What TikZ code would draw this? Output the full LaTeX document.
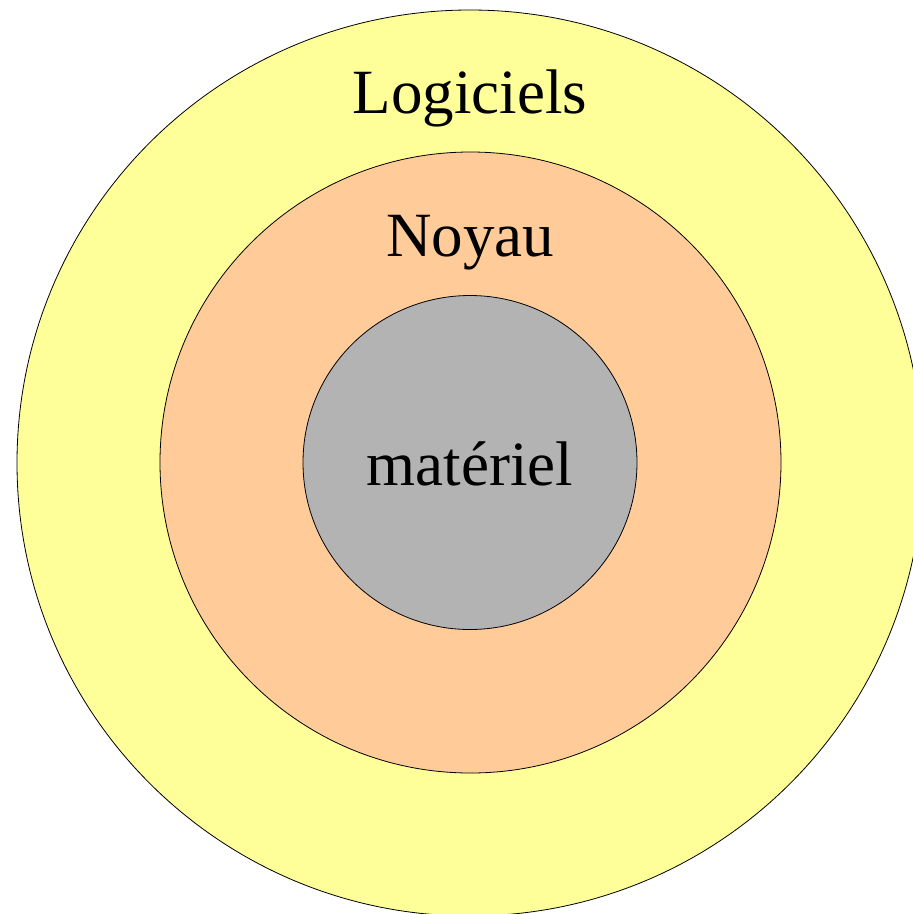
\documentclass[tikz,border=0pt]{standalone}
\usepackage{fontspec}
\setmainfont{Liberation Serif}
\definecolor{softyellow}{HTML}{FFFF99}
\definecolor{softorange}{HTML}{FFCC99}
\definecolor{softgray}{HTML}{B3B3B3}
\begin{document}
\begin{tikzpicture}[x=1pt,y=-1pt,
  ring/.style={circle,draw=black,line width=0.8pt,inner sep=0pt},
  lbl/.style={font=\fontsize{63}{70}\selectfont,anchor=base,inner sep=0pt}]
\useasboundingbox (0,0) rectangle (913,914);
\begin{scope}
\clip (0,0) rectangle (913,914);
\node[ring,fill=softyellow,minimum size=906pt] (outer) at (470,463) {};
\node[ring,fill=softorange,minimum size=621pt] (middle) at (470.5,462.5) {};
\node[ring,fill=softgray,minimum size=334pt] (inner) at (470,462.5) {};
\end{scope}
\node[lbl] (logiciels) at (470,113) {Logiciels};
\node[lbl] (noyau) at (470,256) {Noyau};
\node[lbl] (materiel) at (470,485) {matériel};
\end{tikzpicture}
\end{document}
